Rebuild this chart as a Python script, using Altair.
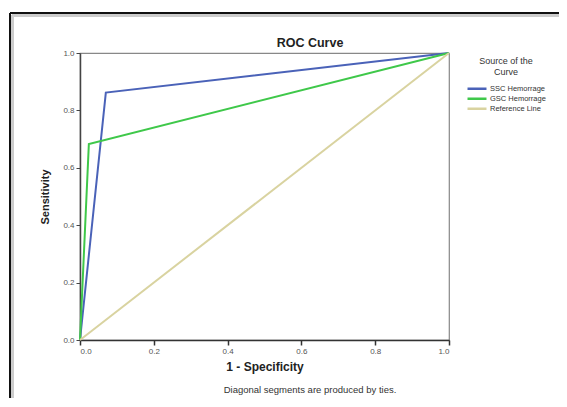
import altair as alt
import pandas as pd

series_names = ["SSC Hemorrage", "GSC Hemorrage", "Reference Line"]
ssc_x = [0.0, 0.07, 1.0]
ssc_y = [0.0, 0.862, 1.0]
gsc_x = [0.0, 0.024, 1.0]
gsc_y = [0.0, 0.683, 1.0]
ref_x = [0.0, 1.0]
ref_y = [0.0, 1.0]
colors = ["#4a62b8", "#3fc84a", "#d9d3a0"]
ticks = [0.0, 0.2, 0.4, 0.6, 0.8, 1.0]

rows = []
for name, xs, ys in zip(series_names, [ssc_x, gsc_x, ref_x], [ssc_y, gsc_y, ref_y]):
    for i, (a, b) in enumerate(zip(xs, ys)):
        rows.append({"series": name, "x": a, "y": b, "order": i})
df = pd.DataFrame(rows)

FONT = "Liberation Sans"
W, H = 369, 287

lines = alt.Chart(df).mark_line(strokeWidth=2).encode(
    x=alt.X("x:Q", scale=alt.Scale(domain=[0, 1], nice=False),
            axis=alt.Axis(values=ticks, format=".1f", title="1 - Specificity",
                          grid=False, tickSize=5, labelFontSize=8, labelColor="#555555",
                          domainColor="#333333", tickColor="#333333", domainWidth=1.5,
                          tickWidth=1.5,
                          titleFontSize=12, titleFontWeight="bold", titleColor="#222222",
                          titlePadding=6, labelPadding=2)),
    y=alt.Y("y:Q", scale=alt.Scale(domain=[0, 1], nice=False),
            axis=alt.Axis(values=ticks, format=".1f", title="Sensitivity",
                          grid=False, tickSize=4, labelFontSize=8, labelColor="#555555",
                          domainColor="#444444", tickColor="#444444", domainWidth=1.5,
                          titleFontSize=11, titleFontWeight="bold", titleColor="#222222",
                          titlePadding=12, labelPadding=2)),
    color=alt.Color("series:N", sort=series_names,
                    scale=alt.Scale(domain=series_names, range=colors),
                    legend=alt.Legend(title=["Source of the", "Curve"], orient="none",
                                      legendX=386, legendY=4, symbolType="stroke",
                                      symbolStrokeWidth=2.5, symbolSize=360,
                                      clipHeight=9.5,
                                      titleFontSize=9, titleFontWeight="normal",
                                      titleAlign="center", titleAnchor="middle",
                                      titleColor="#333333", labelFontSize=7.5,
                                      labelColor="#333333", rowPadding=0, labelOffset=2,
                                      titlePadding=7)),
    order="order:Q",
)

title_text = alt.Chart(pd.DataFrame({"t": ["ROC Curve"]})).mark_text(
    font=FONT, fontSize=12.5, fontWeight="bold", color="#222222", align="center", baseline="middle"
).encode(text="t:N", x=alt.value(230), y=alt.value(-10))

footnote = alt.Chart(pd.DataFrame({"t": ["Diagonal segments are produced by ties."]})).mark_text(
    font=FONT, fontSize=9.5, color="#333333", align="center", baseline="middle"
).encode(text="t:N", x=alt.value(230), y=alt.value(337))

frame_top = alt.Chart(pd.DataFrame({"a": [0]})).mark_rule(color="#111111", strokeWidth=2).encode(
    x=alt.value(-70), x2=alt.value(500), y=alt.value(-40))
frame_left = alt.Chart(pd.DataFrame({"a": [0]})).mark_rule(color="#111111", strokeWidth=2).encode(
    x=alt.value(-70), y=alt.value(-40), y2=alt.value(360))
shade_top = alt.Chart(pd.DataFrame({"a": [0]})).mark_rule(color="#cccccc", strokeWidth=3).encode(
    x=alt.value(-68), x2=alt.value(500), y=alt.value(-37.5))
shade_left = alt.Chart(pd.DataFrame({"a": [0]})).mark_rule(color="#cccccc", strokeWidth=3).encode(
    x=alt.value(-67.5), y=alt.value(-38), y2=alt.value(360))
bottom_band = alt.Chart(pd.DataFrame({"a": [0]})).mark_rule(color="#e6e6e6", strokeWidth=8).encode(
    x=alt.value(-80), x2=alt.value(500), y=alt.value(352))

chart = alt.layer(
    shade_top, shade_left, bottom_band, frame_top, frame_left, lines, title_text, footnote
).properties(
    width=W, height=H,
    autosize=alt.AutoSizeParams(type="none"),
    padding={"left": 72, "top": 45, "right": 110, "bottom": 58},
).configure(font=FONT).configure_view(stroke="#888888", strokeWidth=1.2)

chart.save("out.html", embed_options={"renderer": "svg", "actions": False})
